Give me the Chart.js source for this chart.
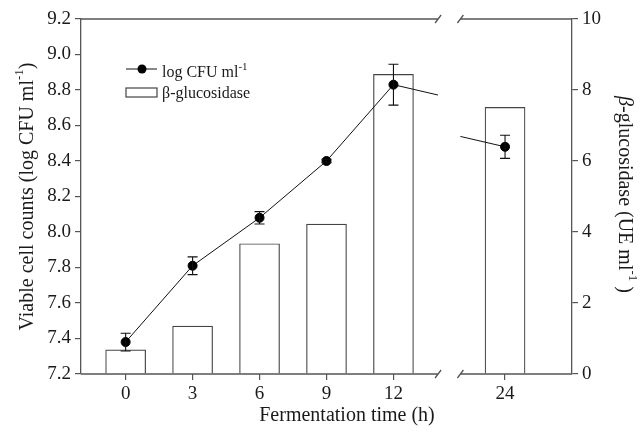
<!DOCTYPE html>
<html>
<head>
<meta charset="utf-8">
<script src="https://cdn.jsdelivr.net/npm/chart.js@4.4.0/dist/chart.umd.min.js"></script>
<style>
  html, body { margin: 0; padding: 0; background: #fff; }
  #wrap { width: 642px; height: 435px; }
</style>
</head>
<body>
<div id="wrap"><canvas id="fermChart"></canvas></div>
<script>
// data
var hours = [0, 3, 6, 9, 12, 24];
var logCFU = [7.38, 7.81, 8.08, 8.40, 8.83, 8.48];
var logCFUErr = [0.05, 0.05, 0.035, 0.01, 0.115, 0.065];
var glucosidase = [0.68, 1.35, 3.67, 4.22, 8.44, 7.51];
var leftTicks = [7.2, 7.4, 7.6, 7.8, 8.0, 8.2, 8.4, 8.6, 8.8, 9.0, 9.2];
var rightTicks = [0, 2, 4, 6, 8, 10];

// broken x axis: hours after 12 are pulled left by CUT
var CUT = 7;
var BREAK_A = 14, BREAK_B = 15;
var X_MIN = -2, X_MAX = 20;
function pos(h) { return h > 12 ? h - CUT : h; }

var SERIF = "'Liberation Serif', 'Times New Roman', serif";
var AXIS_COLOR = '#555';
var TEXT_COLOR = '#1a1a1a';

function drawRich(ctx, parts, x, y, angle, align) {
  ctx.save();
  ctx.translate(x, y);
  ctx.rotate(angle || 0);
  ctx.fillStyle = TEXT_COLOR;
  ctx.textBaseline = 'middle';
  ctx.textAlign = 'left';
  var total = 0;
  parts.forEach(function (p) {
    ctx.font = (p.style || '') + ' ' + p.size + 'px ' + SERIF;
    p.w = ctx.measureText(p.t).width;
    total += p.w;
  });
  var cx = align == 'left' ? 0 : -total / 2;
  parts.forEach(function (p) {
    ctx.font = (p.style || '') + ' ' + p.size + 'px ' + SERIF;
    ctx.fillText(p.t, cx, -(p.rise || 0));
    cx += p.w;
  });
  ctx.restore();
}

// clip the two halves of the line to their side of the break
var breakClip = {
  id: 'breakClip',
  beforeDatasetDraw: function (chart, args) {
    var ds = chart.data.datasets[args.index];
    if (!ds.part) return;
    var xs = chart.scales.x, area = chart.chartArea, ctx = chart.ctx;
    var l, r;
    if (ds.part == 'left') { l = area.left; r = xs.getPixelForValue(BREAK_A); }
    else { l = xs.getPixelForValue(BREAK_B); r = area.right; }
    ctx.save();
    ctx.beginPath();
    ctx.rect(l, 0, r - l, chart.height);
    ctx.clip();
  },
  afterDatasetDraw: function (chart, args) {
    var ds = chart.data.datasets[args.index];
    if (ds.part) chart.ctx.restore();
  }
};

var extras = {
  id: 'extras',
  afterDatasetsDraw: function (chart) {
    var ctx = chart.ctx, area = chart.chartArea;
    var xs = chart.scales.x, ys = chart.scales.y;
    // error bars
    ctx.save();
    ctx.strokeStyle = '#111';
    ctx.lineWidth = 1.1;
    for (var i = 0; i < hours.length; i++) {
      var px = xs.getPixelForValue(pos(hours[i]));
      var top = ys.getPixelForValue(logCFU[i] + logCFUErr[i]);
      var bot = ys.getPixelForValue(logCFU[i] - logCFUErr[i]);
      ctx.beginPath();
      ctx.moveTo(px, top); ctx.lineTo(px, bot);
      ctx.moveTo(px - 5, top); ctx.lineTo(px + 5, top);
      ctx.moveTo(px - 5, bot); ctx.lineTo(px + 5, bot);
      ctx.stroke();
    }
    ctx.restore();

    // top frame and bottom axis, with the break marks
    var a = xs.getPixelForValue(BREAK_A), b = xs.getPixelForValue(BREAK_B);
    ctx.save();
    ctx.strokeStyle = AXIS_COLOR;
    ctx.lineWidth = 1.3;
    [area.top, area.bottom].forEach(function (yy) {
      ctx.beginPath();
      ctx.moveTo(area.left, yy); ctx.lineTo(a, yy);
      ctx.moveTo(b, yy); ctx.lineTo(area.right, yy);
      ctx.moveTo(a - 3, yy + 4); ctx.lineTo(a + 3, yy - 4);
      ctx.moveTo(b - 3, yy + 4); ctx.lineTo(b + 3, yy - 4);
      ctx.stroke();
    });
    ctx.restore();

    // legend
    var lx = area.left + 45, ly = area.top + 50;
    ctx.save();
    ctx.strokeStyle = '#111';
    ctx.lineWidth = 1;
    ctx.beginPath(); ctx.moveTo(lx, ly); ctx.lineTo(lx + 31, ly); ctx.stroke();
    ctx.fillStyle = '#000';
    ctx.beginPath(); ctx.arc(lx + 16, ly, 4.5, 0, Math.PI * 2); ctx.fill();
    ctx.strokeStyle = '#444';
    ctx.lineWidth = 1.2;
    ctx.strokeRect(lx, ly + 19, 31, 9);
    ctx.restore();
    drawRich(ctx, [{ t: 'log CFU ml', size: 16 }, { t: '-1', size: 11, rise: 6 }], lx + 36, ly + 4, 0, 'left');
    drawRich(ctx, [{ t: 'β-glucosidase', size: 16 }], lx + 36, ly + 25, 0, 'left');

    // axis titles
    var midY = (area.top + area.bottom) / 2;
    drawRich(ctx, [
      { t: 'Viable cell counts (log CFU ml', size: 20 },
      { t: '-1', size: 13, rise: 8 },
      { t: ')', size: 20 }
    ], 28, midY, -Math.PI / 2);
    drawRich(ctx, [
      { t: 'β', size: 20, style: 'italic' },
      { t: '-glucosidase (UE ml', size: 20 },
      { t: '-1', size: 13, rise: 8 },
      { t: ' )', size: 20 }
    ], 624, midY - 2, Math.PI / 2);
    drawRich(ctx, [{ t: 'Fermentation time (h)', size: 20 }], 347, 416, 0);
  }
};

var barData = hours.map(function (h, i) { return { x: pos(h), y: glucosidase[i] }; });
var lineData = hours.map(function (h, i) { return { x: h, y: logCFU[i] }; });

var lineStyle = {
  borderColor: '#111',
  borderWidth: 1,
  pointRadius: 4.5,
  pointBackgroundColor: '#000',
  pointBorderColor: '#000',
  tension: 0
};

var ctx = document.getElementById('fermChart');
var chart = new Chart(ctx, {
  type: 'bar',
  data: {
    datasets: [
      Object.assign({ type: 'line', label: 'log CFU ml-1', data: lineData, xAxisID: 'x', yAxisID: 'y', part: 'left', order: 1 }, lineStyle),
      Object.assign({ type: 'line', label: 'log CFU ml-1', data: lineData, xAxisID: 'xs', yAxisID: 'y', part: 'right', order: 1 }, lineStyle),
      {
        type: 'bar',
        label: 'β-glucosidase',
        data: barData,
        xAxisID: 'x',
        yAxisID: 'yR',
        backgroundColor: '#fff',
        borderColor: '#444',
        borderWidth: 1.2,
        barThickness: 40,
        grouped: false,
        order: 2
      }
    ]
  },
  options: {
    responsive: true,
    maintainAspectRatio: false,
    animation: false,
    layout: { padding: { top: 19, left: 0, right: 0, bottom: 0 } },
    plugins: { legend: { display: false }, tooltip: { enabled: false } },
    scales: {
      x: {
        type: 'linear',
        offset: false,
        min: X_MIN,
        max: X_MAX,
        afterBuildTicks: function (axis) {
          axis.ticks = hours.map(function (h) { return { value: pos(h) }; });
        },
        ticks: {
          callback: function (v) { return String(v > 12 ? v + CUT : v); },
          font: { family: SERIF, size: 19 },
          color: TEXT_COLOR,
          padding: 3,
          maxRotation: 0
        },
        grid: { display: true, drawOnChartArea: false, offset: false, tickLength: 6, color: AXIS_COLOR, lineWidth: 1.2 },
        border: { display: false },
        afterFit: function (s) { s.height = 61; }
      },
      xs: {
        type: 'linear',
        display: false,
        offset: false,
        min: X_MIN + CUT,
        max: X_MAX + CUT
      },
      y: {
        position: 'left',
        min: 7.2,
        max: 9.2,
        afterBuildTicks: function (axis) {
          axis.ticks = leftTicks.map(function (v) { return { value: v }; });
        },
        ticks: {
          callback: function (v) { return v.toFixed(1); },
          font: { family: SERIF, size: 19 },
          color: TEXT_COLOR,
          padding: 4
        },
        grid: { drawOnChartArea: false, tickLength: 6, color: AXIS_COLOR, lineWidth: 1.2 },
        border: { display: true, color: AXIS_COLOR, width: 1.3 },
        afterFit: function (s) { s.width = 81; }
      },
      yR: {
        position: 'right',
        min: 0,
        max: 10,
        afterBuildTicks: function (axis) {
          axis.ticks = rightTicks.map(function (v) { return { value: v }; });
        },
        ticks: {
          font: { family: SERIF, size: 19 },
          color: TEXT_COLOR,
          padding: 4
        },
        grid: { drawOnChartArea: false, tickLength: 6, color: AXIS_COLOR, lineWidth: 1.2 },
        border: { display: true, color: AXIS_COLOR, width: 1.3 },
        afterFit: function (s) { s.width = 70; }
      }
    }
  },
  plugins: [breakClip, extras]
});
</script>
</body>
</html>
